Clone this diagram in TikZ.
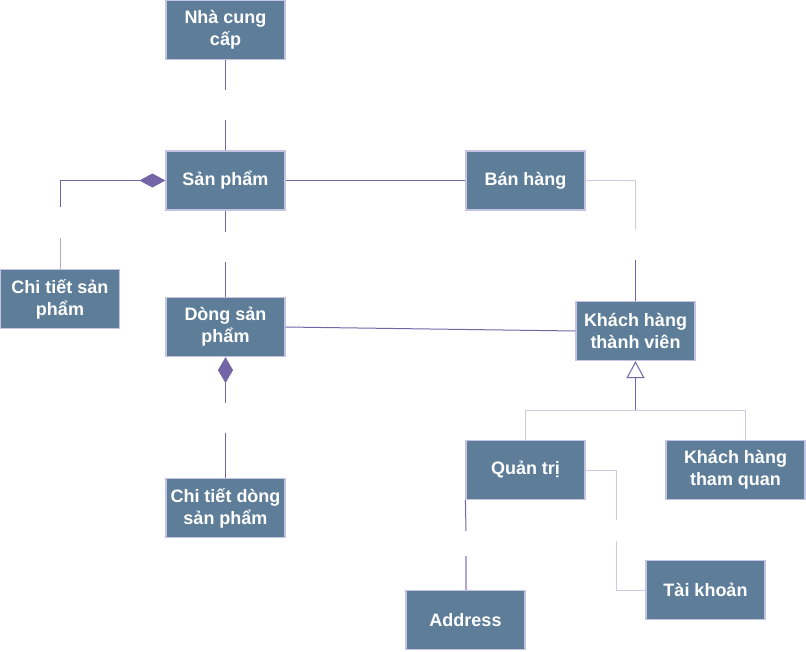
\documentclass[tikz,border=0pt]{standalone}
\usepackage{fontspec}
\setmainfont{Liberation Sans}
\usetikzlibrary{arrows.meta}
\definecolor{boxfill}{HTML}{5D7D99}
\definecolor{boxline}{HTML}{C4C4E2}
\definecolor{darkline}{HTML}{7366A8}
\definecolor{midline}{HTML}{ADA7D2}
\definecolor{lightline}{HTML}{CFCAE4}
\begin{document}
\begin{tikzpicture}[x=1pt,y=-1pt,
  box/.style={draw=boxline, fill=boxfill, line width=1.2pt, minimum width=119pt, minimum height=59pt, inner sep=0pt, text=white, font=\fontsize{18}{22}\selectfont\bfseries, align=center},
  dk/.style={draw=darkline, line width=1pt},
  md/.style={draw=midline, line width=1pt},
  lt/.style={draw=lightline, line width=1pt}]
\useasboundingbox (0,0) rectangle (806,651);

\node[box] (ncc) at (225.5,30) {Nhà cung\\cấp};
\node[box] (sp) at (225.5,180.5) {Sản phẩm};
\node[box] (bh) at (525.5,180.5) {Bán hàng};
\node[box] (ctsp) at (60,299) {Chi tiết sản\\phẩm};
\node[box] (dsp) at (225.5,327) {Dòng sản\\phẩm};
\node[box] (khtv) at (635.5,331) {Khách hàng\\thành viên};
\node[box] (qt) at (525.5,470) {Quản trị};
\node[box, minimum width=139pt] (khtq) at (735.5,470) {Khách hàng\\tham quan};
\node[box] (ctdsp) at (225.5,508) {Chi tiết dòng\\sản phẩm};
\node[box] (addr) at (465.5,620) {Address};
\node[box] (tk) at (705.5,590) {Tài khoản};

% Nha cung cap -- San pham
\coordinate (g1a) at (225.5,90);
\coordinate (g1b) at (225.5,120);
\draw[dk] (ncc.south) -- (g1a);
\draw[dk] (g1b) -- (sp.north);

% Chi tiet san pham -- San pham (composition)
\coordinate (g2a) at (60,207);
\coordinate (g2b) at (60,238);
\draw[dk, -{Diamond[length=26pt,width=14pt,fill=darkline,color=darkline]}] (g2a) -- (60,180.5) -- (sp.west);
\draw[md] (g2b) -- (ctsp.north);

% San pham -- Ban hang
\draw[dk] (sp.east) -- (bh.west);

% San pham -- Dong san pham
\coordinate (g3a) at (225.5,232);
\coordinate (g3b) at (225.5,262);
\draw[dk] (sp.south) -- (g3a);
\draw[dk] (g3b) -- (dsp.north);

% Dong san pham -- Khach hang thanh vien
\draw[dk] (dsp.east) -- (khtv.west);

% Ban hang -- Khach hang thanh vien
\coordinate (g4a) at (635.5,230);
\coordinate (g4b) at (635.5,260);
\draw[lt] (bh.east) -- (635.5,180.5) -- (g4a);
\draw[dk] (g4b) -- (khtv.north);

% Generalization
\coordinate (gj) at (635.5,410);
\draw[dk, -{Triangle[open,length=17pt,width=18pt,fill=white,color=darkline]}] (gj) -- (khtv.south);
\draw[lt] (qt.north) -- (525.5,410) -- (745.5,410) -- (745.5,410 |- khtq.north);

% Dong san pham -- Chi tiet dong san pham
\coordinate (g5a) at (225.5,403);
\coordinate (g5b) at (225.5,433);
\draw[dk, {Diamond[length=26pt,width=15pt,fill=darkline,color=darkline]}-] (dsp.south) -- (g5a);
\draw[dk] (g5b) -- (ctdsp.north);

% Quan tri -- Address
\coordinate (g6a) at (466,531);
\coordinate (g6b) at (466,556);
\draw[dk] (qt.south west) -- (g6a);
\draw[md, line width=1.5pt] (g6b) -- (466,556 |- addr.north);

% Quan tri -- Tai khoan
\coordinate (g7a) at (616,520);
\coordinate (g7b) at (616,541);
\draw[lt] (qt.east) -- (616,470) -- (g7a);
\draw[lt] (g7b) -- (616,590) -- (tk.west);
\end{tikzpicture}
\end{document}
